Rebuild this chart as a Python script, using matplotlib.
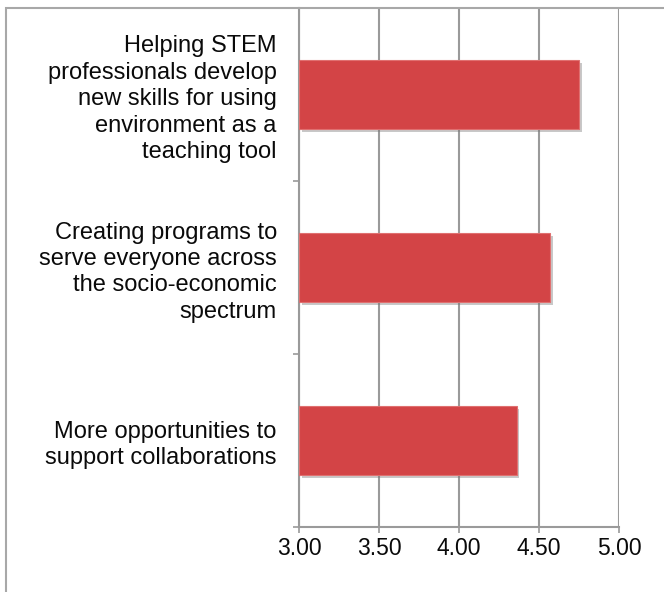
import matplotlib.pyplot as plt
from matplotlib.patches import Rectangle
from matplotlib import patheffects

# Average ratings per priority (scale up to 5)
priorities = [
    "Helping STEM\nprofessionals develop\nnew skills for using\nenvironment as a\nteaching tool",
    "Creating programs to\nserve everyone across\nthe socio-economic\nspectrum",
    "More opportunities to\nsupport collaborations",
]
ratings = [4.75, 4.57, 4.36]
x_ticks = [3.0, 3.5, 4.0, 4.5, 5.0]

plt.rcParams['font.family'] = ['Liberation Sans', 'DejaVu Sans']

fig = plt.figure(figsize=(6.64, 5.92), dpi=100)
W, H = 664, 592
ax = fig.add_axes([299 / W, 65 / H, 320 / W, 519 / H])

grid_col = '#9a9a9a'
centers = [i + 0.5 for i in range(len(priorities))]

bars = ax.barh(centers, [r - 3 for r in ratings], left=3, height=0.4,
               color='#d34446', edgecolor='#e07070', linewidth=0.8, zorder=3)
for b in bars:
    b.set_path_effects([patheffects.SimplePatchShadow(offset=(2, -2), shadow_rgbFace='#777777', alpha=0.4),
                        patheffects.Normal()])

ax.set_xlim(3, 5)
ax.set_ylim(3, 0)
ax.set_xticks(x_ticks)
ax.set_xticklabels(['%.2f' % v for v in x_ticks])
ax.set_yticks([0, 1, 2, 3])
ax.set_yticklabels([])
ax.set_yticks(centers, minor=True)
ax.set_yticklabels(priorities, minor=True, linespacing=1.26)

ax.grid(axis='x', color=grid_col, linewidth=1.5, zorder=0)
for s in ['top', 'right']:
    ax.spines[s].set_visible(False)
for s in ['left', 'bottom']:
    ax.spines[s].set_color(grid_col)
    ax.spines[s].set_linewidth(1.5)

ax.tick_params(axis='both', which='major', color=grid_col, width=1.2, length=4.5,
               labelsize=16.5, labelcolor='#0a0a0a')
ax.tick_params(axis='x', pad=3)
ax.tick_params(axis='y', which='minor', length=0, pad=16, labelsize=17, labelcolor='#0a0a0a')

# outer frame around the chart
fig.patches.append(Rectangle((6 / W, -0.1), 1.2, (592 - 8) / H + 0.1, transform=fig.transFigure,
                             fill=False, edgecolor='#a8a8a8', linewidth=1.5, zorder=0))

fig.savefig('out.png', dpi=100)
